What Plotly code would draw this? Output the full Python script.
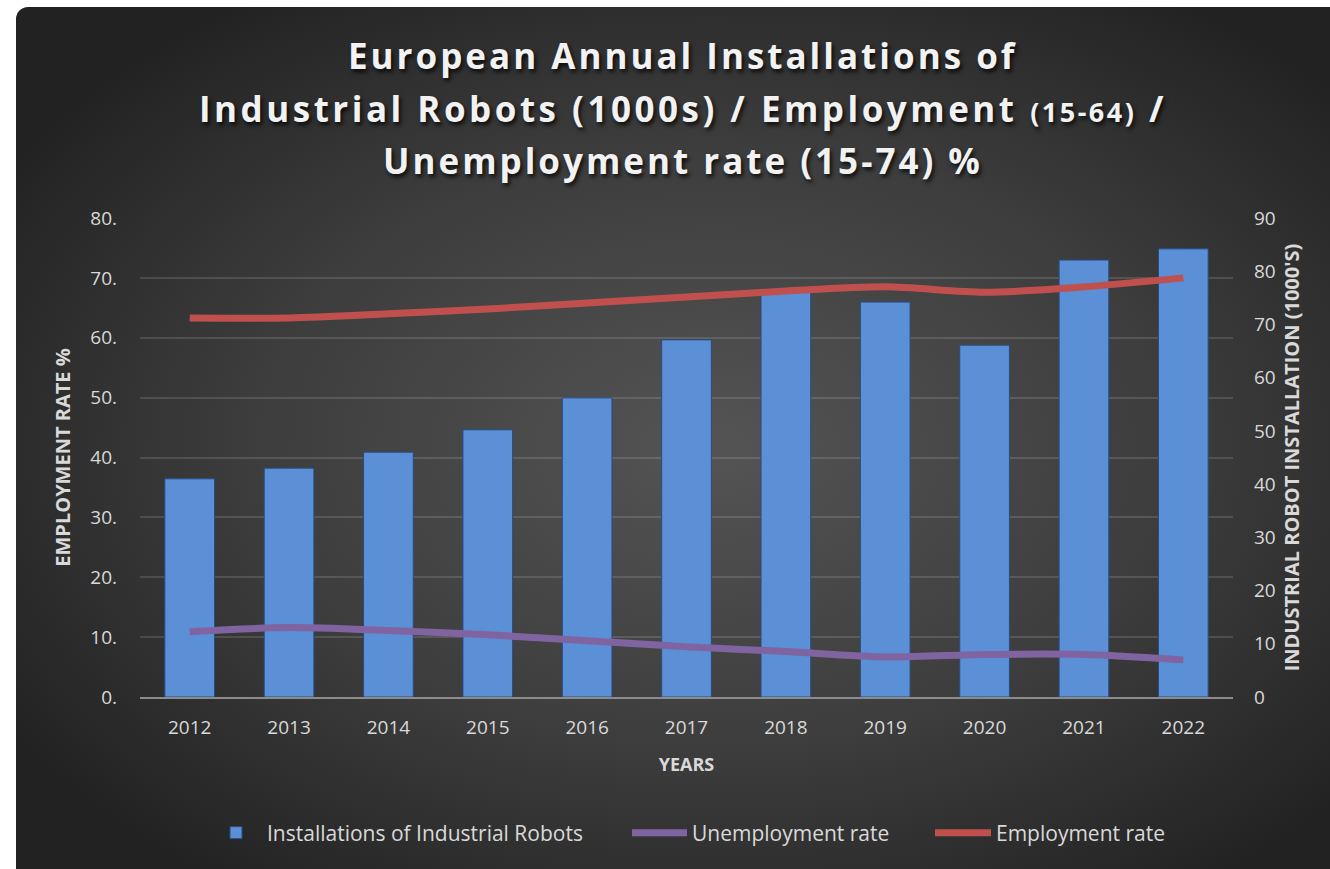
import base64
import plotly.graph_objects as go

years = ["2012", "2013", "2014", "2015", "2016", "2017", "2018", "2019", "2020", "2021", "2022"]
robot_installations = [41.0, 43.0, 46.0, 50.2, 56.2, 67.1, 76.5, 74.2, 66.1, 82.1, 84.2]
unemployment_rate = [10.9, 11.6, 11.1, 10.4, 9.4, 8.4, 7.6, 6.7, 7.1, 7.1, 6.2]
employment_rate = [63.3, 63.3, 64.0, 64.8, 65.8, 66.8, 67.8, 68.5, 67.6, 68.5, 70.0]
left_ticks = [0, 10, 20, 30, 40, 50, 60, 70, 80]
left_tick_labels = ["0.", "10.", "20.", "30.", "40.", "50.", "60.", "70.", "80."]
right_ticks = [0, 10, 20, 30, 40, 50, 60, 70, 80, 90]

title_line1 = "European Annual Installations of"
title_line2a = "Industrial Robots (1000s) / Employment "
title_line2b = "(15-64)"
title_line2c = " /"
title_line3 = "Unemployment rate (15-74) %"

W, H = 1330, 869
L, R, T, B = 140, 1233, 218, 697
pw, ph = R - L, B - T

svg = f"""<svg xmlns='http://www.w3.org/2000/svg' width='1314' height='862' viewBox='0 0 1314 862' preserveAspectRatio='none'>
<defs><radialGradient id='g' cx='52%' cy='50%' r='62%'>
<stop offset='0' stop-color='#545454'/><stop offset='0.55' stop-color='#3d3d3d'/><stop offset='1' stop-color='#222222'/>
</radialGradient></defs>
<rect x='0' y='0' width='1340' height='880' rx='12' ry='12' fill='url(#g)'/></svg>"""
bg_uri = "data:image/svg+xml;base64," + base64.b64encode(svg.encode()).decode()

FONT = "Open Sans"
TXT = "#d9d9d9"

fig = go.Figure()
fig.add_trace(go.Bar(
    x=years, y=robot_installations, name="Installations of Industrial Robots",
    marker=dict(color="#5b8fd6", line=dict(color="#2a4c80", width=1)),
    width=0.5, yaxis="y", legend="legend",
))
fig.add_trace(go.Scatter(
    x=years, y=unemployment_rate, name="Unemployment rate", mode="lines",
    line=dict(color="#8064a2", width=7, shape="spline", smoothing=0.8), yaxis="y2",
    legend="legend2",
))
fig.add_trace(go.Scatter(
    x=years, y=employment_rate, name="Employment rate", mode="lines",
    line=dict(color="#c0504d", width=7, shape="spline", smoothing=0.8), yaxis="y2",
    legend="legend3",
))

title_texts = [
    f"<b><span style='letter-spacing:3px'>{title_line1}</span></b>",
    f"<b><span style='letter-spacing:3.5px'>{title_line2a}</span>"
    f"<span style='font-size:27px;letter-spacing:2.5px'>{title_line2b}</span>"
    f"<span style='letter-spacing:3.5px'>{title_line2c}</span></b>",
    f"<b><span style='letter-spacing:3px'>{title_line3}</span></b>",
]
for text, yc in zip(title_texts, [55, 108, 160]):
    fig.add_annotation(
        text=text, xref="paper", x=0.5 - (686 - 682) / pw,
        yref="paper", y=(B - yc) / ph, xanchor="center", yanchor="middle",
        showarrow=False,
        font=dict(family=FONT, size=35, color="#f2f2f2", shadow="2px 3px 4px rgba(0,0,0,0.8)"),
    )


def legend_at(origin_px, itemwidth):
    return dict(
        orientation="h", x=(origin_px - L) / pw, xanchor="left",
        y=(B - 833) / ph, yanchor="middle",
        font=dict(size=21, color=TXT), bgcolor="rgba(0,0,0,0)",
        itemwidth=itemwidth, borderwidth=0,
    )


fig.update_layout(
    width=W, height=H,
    margin=dict(l=L, r=W - R, t=T, b=H - B, pad=0),
    paper_bgcolor="white", plot_bgcolor="rgba(0,0,0,0)",
    font=dict(family=FONT, color=TXT, size=18),
    showlegend=True,
    legend=legend_at(205, 52),
    legend2=legend_at(627, 55),
    legend3=legend_at(930, 56),
    bargap=0.5,
    images=[dict(
        source=bg_uri, xref="paper", yref="paper",
        x=(16 - L) / pw, y=(B - 7) / ph, sizex=1314 / pw, sizey=862 / ph,
        xanchor="left", yanchor="top", sizing="stretch", layer="below",
    )],
    xaxis=dict(
        type="category", showgrid=False, showline=True, linecolor="#8c8c8c", linewidth=2,
        ticks="", tickfont=dict(size=19, color=TXT), ticklabelstandoff=12,
        title=dict(text="<b>YEARS</b>", font=dict(size=18, color=TXT), standoff=20),
    ),
    yaxis=dict(
        side="right", range=[0, 90], tickvals=right_ticks, showgrid=False, zeroline=False,
        tickfont=dict(size=19, color=TXT), ticklabelstandoff=20,
        title=dict(text="<b>INDUSTRIAL ROBOT INSTALLATION (1000'S)</b>",
                   font=dict(size=20, color=TXT), standoff=10),
    ),
    yaxis2=dict(
        overlaying="y", side="left", range=[0, 80], tickvals=left_ticks,
        ticktext=left_tick_labels, showgrid=True, gridcolor="rgba(255,255,255,0.13)",
        gridwidth=2, zeroline=False, tickfont=dict(size=19, color=TXT),
        ticklabelstandoff=22,
        title=dict(text="<b>EMPLOYMENT RATE %</b>", font=dict(size=20, color=TXT), standoff=14),
    ),
)

fig.write_html("out.html")
